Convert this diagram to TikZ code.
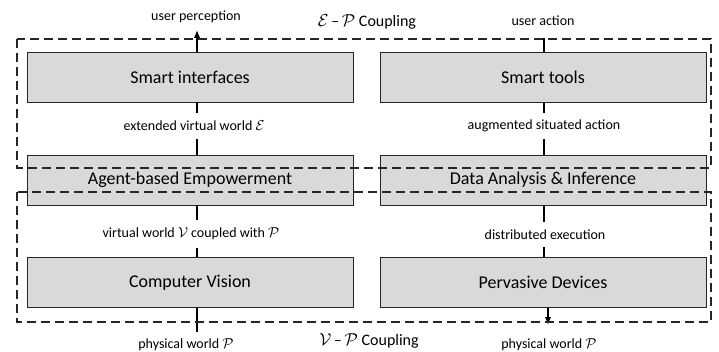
\documentclass[tikz,border=0pt]{standalone}
\usepackage{fontspec}
\setmainfont{Carlito}
\usetikzlibrary{arrows.meta}

\begin{document}
\begin{tikzpicture}[x=1pt,y=-1pt,
  block/.style={draw=black!85, fill=black!15, line width=0.9pt, minimum width=326pt, minimum height=50pt, inner sep=0pt, font=\fontsize{18}{20}\selectfont},
  lbl/.style={inner sep=0pt, minimum height=25pt, font=\fontsize{14}{16}\selectfont},
  coup/.style={inner sep=0pt, font=\fontsize{16}{18}\selectfont},
  zone/.style={line width=1.3pt, black!85, dash pattern=on 9pt off 5pt},
  link/.style={line width=1.5pt},
  tip/.style={-{Latex[length=8pt,width=6.5pt]}}]
\useasboundingbox (0,0) rectangle (719,352);

% boxes
\node[block] (si) at (190,77) {Smart interfaces};
\node[block] (ab) at (190,180) {Agent-based Empowerment};
\node[block] (cv) at (190,282.5) {Computer Vision};
\node[block] (st) at (543,77) {Smart tools};
\node[block] (da) at (543,180) {Data Analysis \& Inference};
\node[block] (pd) at (543,282.5) {Pervasive Devices};

% labels
\node[lbl] (up) at (196,17) {user perception};
\node[lbl] (ua) at (543,21) {user action};
\node[lbl] (ev) at (194,126) {extended virtual world $\mathcal{E}$};
\node[lbl] (asa) at (544,126) {augmented situated action};
\node[lbl, minimum height=27pt] (vw) at (191,234) {virtual world $\mathcal{V}$ coupled with $\mathcal{P}$};
\node[lbl] (de) at (545,234.5) {distributed execution};
\node[lbl] (pw1) at (186,345) {physical world $\mathcal{P}$};
\node[lbl] (pw2) at (549,345) {physical world $\mathcal{P}$};
\node[coup] (epc) at (367,22) {$\mathcal{E}$\,–\,$\mathcal{P}$ Coupling};
\node[coup] (vpc) at (369,341) {$\mathcal{V}$\,–\,$\mathcal{P}$ Coupling};

% free ends
\coordinate (upTip) at (197,30);
\coordinate (uaEnd) at (544,38);
\coordinate (cvEnd) at (197,332);
\coordinate (pdTip) at (548,325);

% connectors
\draw[link, tip] (si.north -| upTip) -- (upTip);
\draw[link] (st.north -| uaEnd) -- (uaEnd);
\draw[link] (si.south -| upTip) -- (ev.north -| upTip);
\draw[link] (ev.south -| upTip) -- (ab.north -| upTip);
\draw[link] (st.south -| uaEnd) -- (asa.north -| uaEnd);
\draw[link] (asa.south -| uaEnd) -- (da.north -| uaEnd);
\draw[link] (ab.south -| upTip) -- (vw.north -| upTip);
\draw[link] (vw.south -| upTip) -- (cv.north -| upTip);
\draw[link] (da.south -| uaEnd) -- (de.north -| uaEnd);
\draw[link] (de.south -| uaEnd) -- (pd.north -| uaEnd);
\draw[link] (cv.south -| cvEnd) -- (cvEnd);
\draw[link, tip] (pd.south -| pdTip) -- (pdTip);

% coupling zones
\draw[zone] (17,39) rectangle (711,168);
\draw[zone] (17,192) rectangle (711,322);
\end{tikzpicture}
\end{document}
